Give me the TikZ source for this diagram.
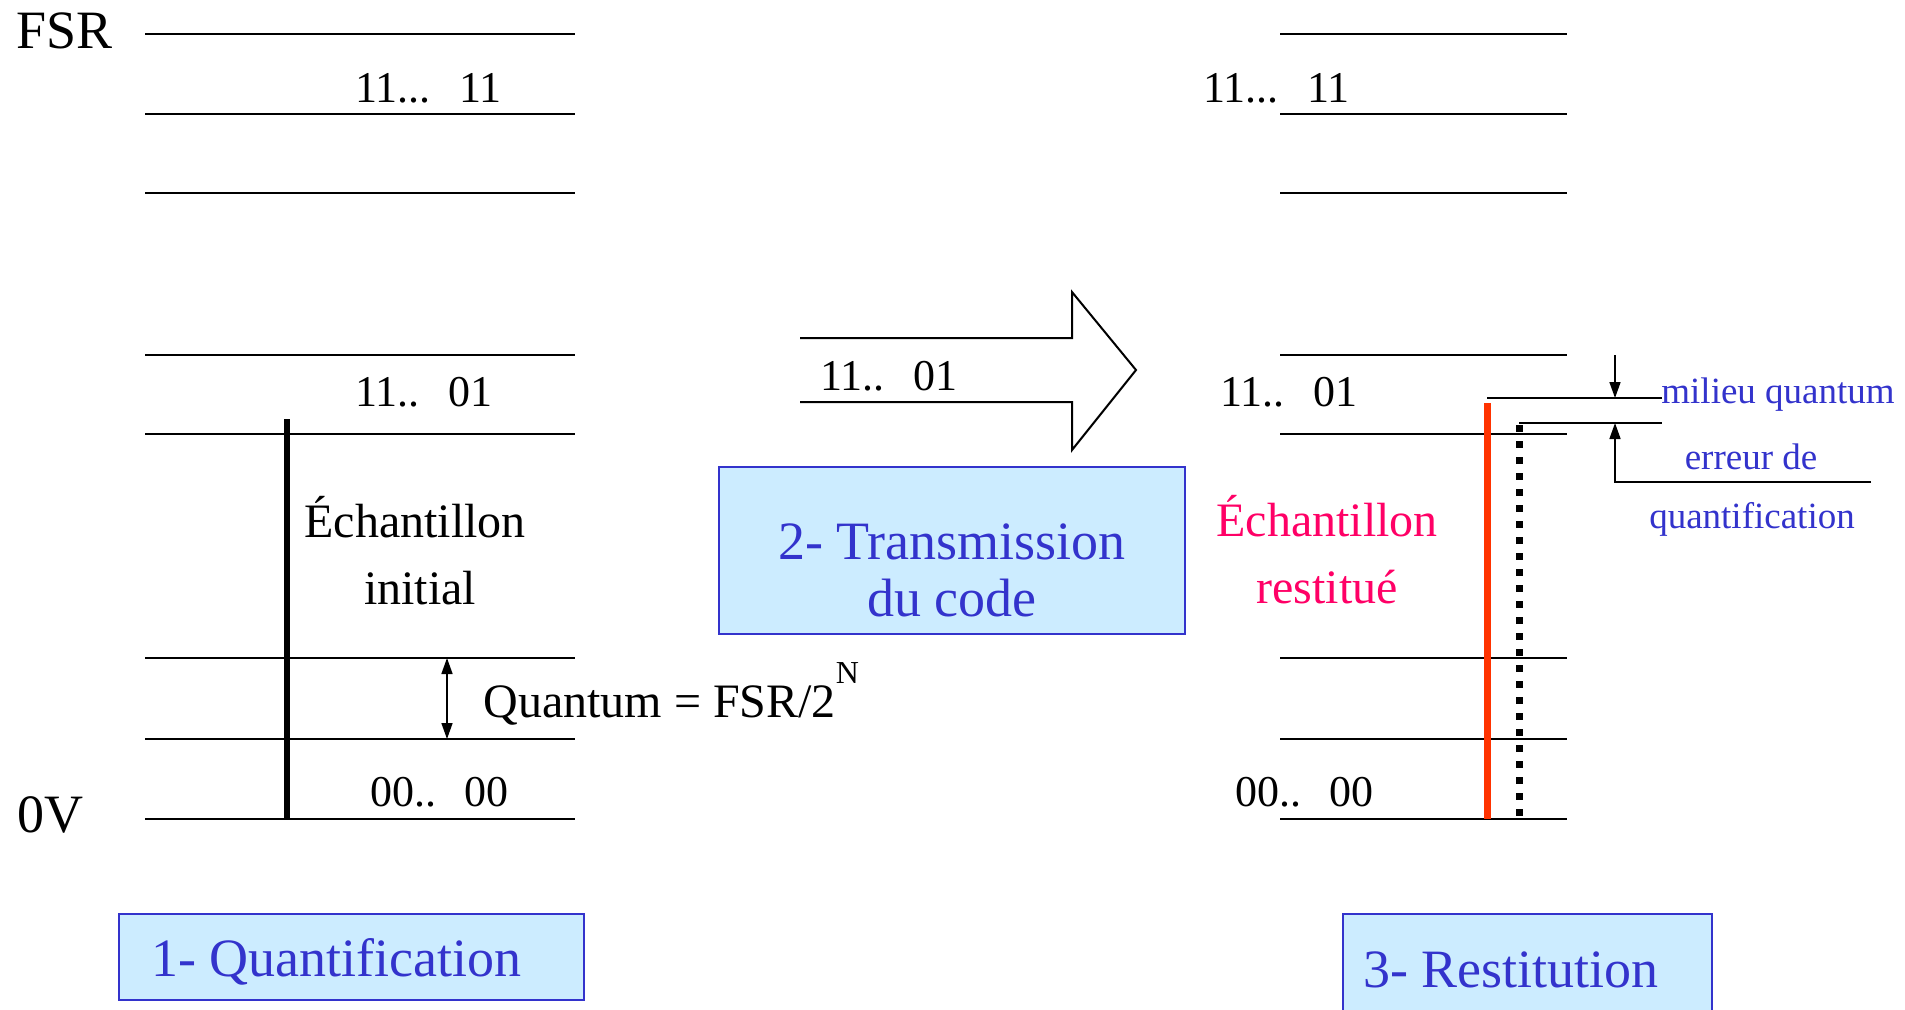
\documentclass[tikz,border=0pt]{standalone}
\usepackage{fontspec}
\setmainfont{Liberation Serif}
\usetikzlibrary{arrows.meta}
\definecolor{titleblue}{HTML}{3333CC}
\definecolor{boxfill}{HTML}{CCECFF}
\definecolor{samplepink}{HTML}{FF0066}
\definecolor{samplered}{HTML}{FF3300}

\tikzset{
  level/.style={line width=1pt},
  code/.style={anchor=base west, inner sep=0pt, font=\fontsize{22}{26}\selectfont},
  bigtext/.style={anchor=base, inner sep=0pt, font=\fontsize{24}{29}\selectfont},
  axislabel/.style={anchor=base west, inner sep=0pt, font=\fontsize{27}{32}\selectfont},
  stagebox/.style={draw=titleblue, fill=boxfill, line width=1.2pt},
  stagetext/.style={text=titleblue, inner sep=0pt, font=\fontsize{27}{32}\selectfont},
  note/.style={text=titleblue, inner sep=0pt, anchor=base, font=\fontsize{18.5}{22}\selectfont},
  pointer/.style={line width=0.8pt, -{Triangle[width=5.5pt,length=8pt]}},
}
\newcommand{\codegap}{\hspace{0.65em}}

\begin{document}
\begin{tikzpicture}[x=0.5pt, y=-0.5pt]
  \clip (0,0) rectangle (1905,1009);
  \fill[white] (0,0) rectangle (1905,1009);

  % quantisation levels, left (coding) and right (restitution)
  \foreach \ly in {34,114,193,355,434,658,739,819} {
    \draw[level] (145,\ly) -- (575,\ly);
    \draw[level] (1280,\ly) -- (1567,\ly);
  }

  % axis labels
  \node[axislabel] (fsr) at (16,48) {FSR};
  \node[axislabel] (zero) at (17,832) {0V};

  % codes, left scale
  \node[code] (c11L) at (355,102) {11...\codegap 11};
  \node[code] (c01L) at (355,406) {11..\codegap 01};
  \node[code] (c00L) at (370,806) {00..\codegap 00};

  % codes, right scale
  \node[code] (c11R) at (1203,102) {11...\codegap 11};
  \node[code] (c01R) at (1220,406) {11..\codegap 01};
  \node[code] (c00R) at (1235,806) {00..\codegap 00};

  % initial sample
  \coordinate (sTop) at (287,419);
  \coordinate (sBot) at (287,819);
  \draw[line width=3pt] (sTop) -- (sBot);
  \node[bigtext] (ech1) at (415,537) {Échantillon};
  \node[bigtext] (ech2) at (420,604) {initial};

  % quantum size
  \coordinate (qTop) at (447,658);
  \coordinate (qBot) at (447,739);
  \draw[line width=0.8pt, {Triangle[width=5.5pt,length=8pt]}-{Triangle[width=5.5pt,length=8pt]}] (qTop) -- (qBot);
  \node[anchor=base west, inner sep=0pt, font=\fontsize{24}{29}\selectfont] (quantum) at (483,717)
    {Quantum = FSR/2\raisebox{17pt}{\fontsize{16}{16}\selectfont N}};

  % transmitted code (block arrow)
  \draw[line width=1pt, line join=miter]
    (800,338) -- (1072,338) -- (1072,292) -- (1136,370) -- (1072,450) -- (1072,402) -- (800,402);
  \node[code] (c01T) at (820,390) {11..\codegap 01};

  % restored sample and initial sample
  \coordinate (rTop) at (1487,403);
  \coordinate (rBot) at (1487,819);
  \draw[samplered, line width=3.5pt] (rTop) -- (rBot);
  \coordinate (dTop) at (1519,425);
  \coordinate (dBot) at (1519,819);
  \draw[line width=3.5pt, dash pattern=on 3.5pt off 4.5pt] (dTop) -- (dBot);
  \node[bigtext, text=samplepink] (ech3) at (1327,536) {Échantillon};
  \node[bigtext, text=samplepink] (ech4) at (1327,603) {restitué};

  % quantisation error
  \coordinate (midL) at (1487,398);
  \coordinate (midR) at (1662,398);
  \coordinate (valL) at (1519,423);
  \coordinate (valR) at (1662,423);
  \draw[line width=0.8pt] (midL) -- (midR);
  \draw[line width=0.8pt] (valL) -- (valR);
  \coordinate (downStart) at (1615,355);
  \coordinate (downEnd) at (1615,398);
  \coordinate (upEnd) at (1615,423);
  \coordinate (errFoot) at (1615,482);
  \coordinate (errEnd) at (1871,482);
  \draw[pointer] (downStart) -- (downEnd);
  \draw[pointer] (errEnd) -- (errFoot) -- (upEnd);
  \node[note, anchor=base west] (milieu) at (1661,403) {milieu quantum};
  \node[note] (err1) at (1751,469) {erreur de};
  \node[note] (err2) at (1752,528) {quantification};

  % stage boxes
  \draw[stagebox] (119,914) rectangle (584,1000);
  \node[stagetext, anchor=base west] (stage1) at (151,976) {1- Quantification};

  \draw[stagebox] (719,467) rectangle (1185,634);
  \node[stagetext, anchor=base] (stage2a) at (952,559) {2- Transmission};
  \node[stagetext, anchor=base] (stage2b) at (952,616) {du code};

  \draw[stagebox] (1343,914) rectangle (1712,1040);
  \node[stagetext, anchor=base west] (stage3) at (1363,987) {3- Restitution};
\end{tikzpicture}
\end{document}
